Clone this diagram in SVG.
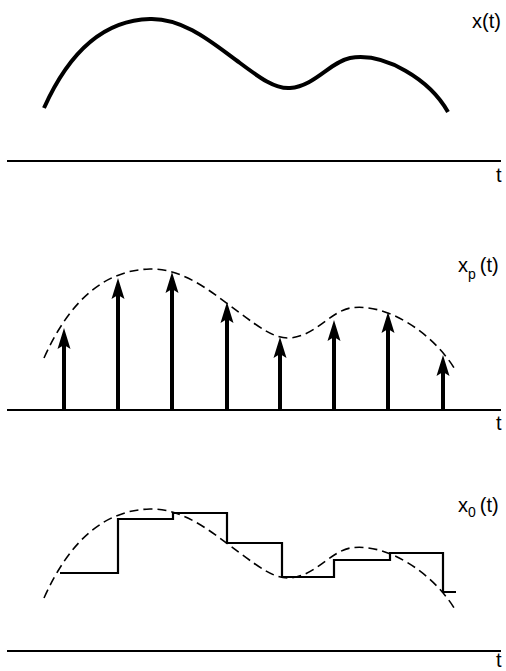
<svg xmlns="http://www.w3.org/2000/svg" width="506" height="671" viewBox="0 0 506 671">
<defs>
<style>
.lbl{font-family:"Liberation Sans",Arial,sans-serif;font-size:20px;fill:#000}
.sub{font-size:14px}
.axis{stroke:#000;stroke-width:1.8;fill:none}
.solid{stroke:#000;stroke-width:4;fill:none;stroke-linecap:butt}
.dash{stroke:#000;stroke-width:1.6;fill:none;stroke-dasharray:9 5}
.stair{stroke:#000;stroke-width:2.2;fill:none;stroke-linejoin:miter}
.imp{stroke:#000;stroke-width:4;fill:none}
</style>
<marker id="ah" markerUnits="userSpaceOnUse" markerWidth="22" markerHeight="14" viewBox="0 0 22 14" refX="4" refY="7" orient="auto">
<path d="M0,0.5 L21,7 L0,13.5 L4,7 Z" fill="#000"/>
</marker>
<path id="wave" d="M44,108 C70,50 105,20 150,19 C185,18 215,45 240,63 C260,78 275,89 290,88 C315,86 330,62 350,58 C388,52 435,85 456,121"/>
</defs>
<rect width="506" height="671" fill="#fff"/>

<g id="panel-x">
<path class="solid" d="M44,108 C70,50 105,20 150,19 C185,18 215,45 240,63 C260,78 275,89 290,88 C315,86 330,62 350,58 C385,52 430,80 448,112"/>
<line class="axis" x1="7" y1="161" x2="501" y2="161"/>
<text class="lbl" x="472" y="28">x(t)</text>
<text class="lbl" x="496" y="182">t</text>
</g>

<g id="panel-xp">
<use href="#wave" class="dash" transform="translate(0,250)"/>
<line class="axis" x1="7" y1="410" x2="501" y2="410"/>
<g id="impulses">
<line class="imp" x1="64" y1="410" x2="64" y2="345" marker-end="url(#ah)"/>
<line class="imp" x1="118" y1="410" x2="118" y2="295" marker-end="url(#ah)"/>
<line class="imp" x1="172" y1="410" x2="172" y2="289" marker-end="url(#ah)"/>
<line class="imp" x1="227" y1="410" x2="227" y2="319" marker-end="url(#ah)"/>
<line class="imp" x1="280" y1="410" x2="280" y2="354" marker-end="url(#ah)"/>
<line class="imp" x1="334" y1="410" x2="334" y2="337" marker-end="url(#ah)"/>
<line class="imp" x1="388" y1="410" x2="388" y2="329" marker-end="url(#ah)"/>
<line class="imp" x1="443" y1="410" x2="443" y2="372" marker-end="url(#ah)"/>
</g>
<text class="lbl" x="458" y="272">x<tspan class="sub" dy="7">p</tspan><tspan dy="-7" dx="4">(t)</tspan></text>
<text class="lbl" x="496" y="430">t</text>
</g>

<g id="panel-x0">
<use href="#wave" class="dash" transform="translate(0,490)"/>
<path class="stair" d="M60,573 H118 V519 H173 V513 H227 V543 H282 V577 H334 V560 H390 V553 H443 V592 H456"/>
<line class="axis" x1="7" y1="651" x2="501" y2="651"/>
<text class="lbl" x="458" y="512">x<tspan class="sub" dy="5">0</tspan><tspan dy="-5" dx="4">(t)</tspan></text>
<text class="lbl" x="496" y="667">t</text>
</g>
</svg>
